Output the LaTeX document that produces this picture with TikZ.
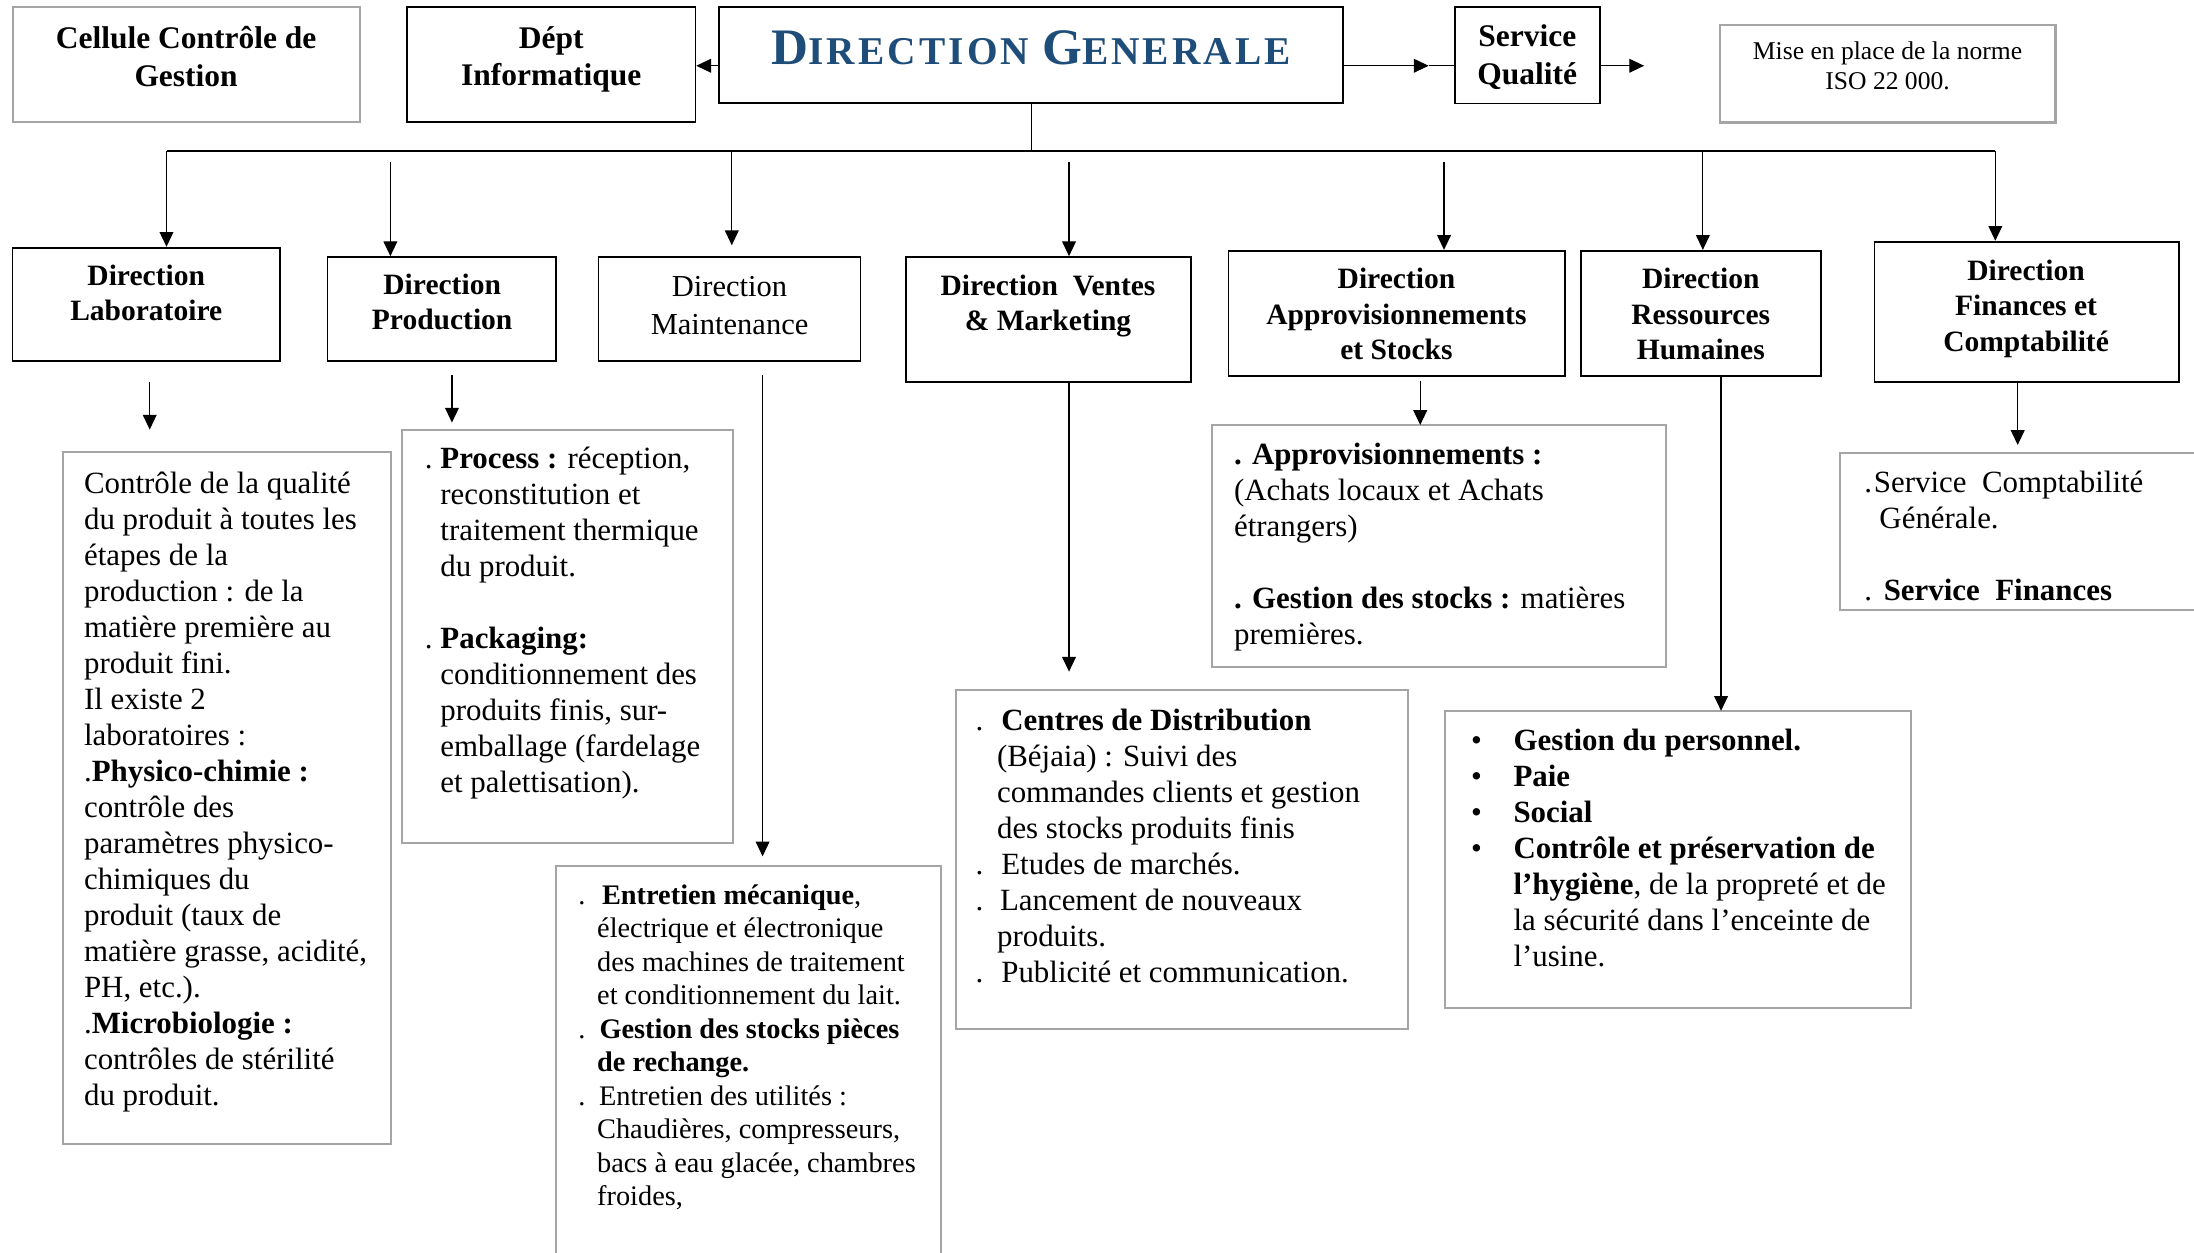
\documentclass[tikz,border=0pt]{standalone}
\usepackage{fontspec}
\setmainfont{Liberation Serif}
\newfontfamily\dgfont[LetterSpace=8]{Liberation Serif}
\usetikzlibrary{arrows.meta,fit}
\definecolor{dgblue}{RGB}{31,77,122}
\definecolor{boxgray}{RGB}{165,165,165}
\tikzset{
	bbox/.style={draw=black, line width=0.9pt, inner sep=0pt},
	gbox/.style={draw=boxgray, line width=1.1pt, inner sep=0pt},
	link/.style={line width=0.6pt},
	busline/.style={line width=1pt},
	txt/.style={inner sep=0pt, execute at begin node=\strut},
	toptitle/.style={txt, anchor=north, align=center, font=\fontsize{16}{19}\selectfont\bfseries},
	dirtitle/.style={txt, anchor=north, align=center, font=\fontsize{15}{18}\selectfont\bfseries},
	body/.style={txt, anchor=north west, align=left, font=\fontsize{15.7}{18.3}\selectfont},
	>={Triangle[length=7.5pt,width=7pt]}
}

\begin{document}
\begin{tikzpicture}[x=0.025cm, y=-0.025cm]
	\path[use as bounding box, clip] (0,0) rectangle (1568,895);

	% draws the top row
	\node[gbox, fit={(9,5) (257,87)}] (cel) {};
	\node[bbox, fit={(291,5) (497,87)}] (dept) {};
	\node[bbox, fit={(514,5) (960,73.5)}] (dg) {};
	\node[bbox, fit={(1040,5) (1143.5,74)}] (sq) {};
	\node[gbox, fit={(1229,18) (1469,87.5)}] (iso) {};

	\node[toptitle] (celT) at (133,18.6) {Cellule Contrôle de\\Gestion};
	\node[toptitle] (deptT) at (394,18.6) {Dépt\\Informatique};
	\node[anchor=base, inner sep=0pt, text=dgblue, font=\dgfont\bfseries] (dgT) at (737,46)
		{{\fontsize{26}{28}\selectfont D}{\fontsize{20}{24}\selectfont IRECTION }{\fontsize{26}{28}\selectfont G}{\fontsize{20}{24}\selectfont ENERALE}};
	\node[toptitle] (sqT) at (1091.5,17.5) {Service\\Qualité};
	\node[txt, anchor=north, align=center, font=\fontsize{13}{15.2}\selectfont] (isoT) at (1349,29.9)
		{Mise en place de la norme\\ISO 22 000.};

	% draws the arrows beside the direction
	\coordinate (yq) at (0,47);
	\coordinate (sqIn) at (1021,47);
	\coordinate (sqOut) at (1175,47);
	\draw[link,->] (dg.west |- yq) -- (dept.east |- yq);
	\draw[link,->] (dg.east |- yq) -- (sqIn);
	\draw[link] (sqIn) -- (sq.west |- yq);
	\draw[link,->] (sq.east |- yq) -- (sqOut);

	% draws the second row
	\node[bbox, fit={(9,177) (200,258.2)}] (labo) {};
	\node[bbox, fit={(234,183.7) (397.6,258.2)}] (prod) {};
	\node[bbox, fit={(427.7,183.9) (615,258.2)}] (maint) {};
	\node[bbox, fit={(647.3,183.7) (851,273.2)}] (vent) {};
	\node[bbox, fit={(878,179.2) (1118.3,268.7)}] (appro) {};
	\node[bbox, fit={(1129.7,179.2) (1301.2,268.7)}] (rh) {};
	\node[bbox, fit={(1339.6,172.7) (1557,272.8)}] (fin) {};

	\node[dirtitle] (laboT) at (104.5,188.8) {Direction\\Laboratoire};
	\node[dirtitle] (prodT) at (316,195.5) {Direction\\Production};
	\node[dirtitle, font=\fontsize{15.5}{19}\selectfont] (maintT) at (521.4,197.3) {Direction\\Maintenance};
	\node[dirtitle] (ventT) at (749,196.1) {Direction~~Ventes\\\& Marketing};
	\node[dirtitle] (approT) at (998,191.4) {Direction\\Approvisionnements\\et Stocks};
	\node[dirtitle] (rhT) at (1215.5,191.4) {Direction\\Ressources\\Humaines};
	\node[dirtitle] (finT) at (1448,185.4) {Direction\\Finances et\\Comptabilité};

	% draws the tree under the direction
	\coordinate (bus) at (0,108);
	\coordinate (d1) at (119,108);
	\coordinate (d2) at (279,115.5);
	\coordinate (d3) at (523,108);
	\coordinate (d4) at (764,115.5);
	\coordinate (d5) at (1032,115.5);
	\coordinate (d6) at (1217,108);
	\coordinate (d7) at (1426,108);
	\draw[link] (dg.south) -- (dg.south |- bus);
	\draw[busline] (d1) -- (d7);
	\foreach \d/\b in {d1/labo, d2/prod, d4/vent, d5/appro, d6/rh, d7/fin}
		\draw[link,->] (\d) -- (\d |- \b.north);
	\draw[link,->, shorten >=0.2cm] (d3) -- (d3 |- maint.north);

	% draws the detail boxes
	\node[gbox, fit={(45.1,323.3) (279.6,817.6)}] (laboD) {};
	\node[gbox, fit={(287.2,307.3) (523.7,602.2)}] (prodD) {};
	\node[gbox, fit={(397.5,618.7) (672.5,905)}] (maintD) {};
	\node[gbox, fit={(683.3,493) (1006,735.2)}] (ventD) {};
	\node[gbox, fit={(866.4,303.7) (1190.9,476.6)}] (approD) {};
	\node[gbox, fit={(1032.8,508.3) (1365.6,720.5)}] (rhD) {};
	\node[gbox, fit={(1314.8,323.5) (1580,436)}] (finD) {};

	% draws the arrows down to the details
	\foreach \n/\x/\ya/\yb in {lab/107/273/307, pro/323/268/302, mai/545/268/612, ven/764/273.2/480,
			app/1015/272/303.7, res/1230/268.7/508, fin/1442/272.8/318} {
		\coordinate (\n A) at (\x,\ya);
		\coordinate (\n B) at (\x,\yb);
		\draw[link,->] (\n A) -- (\n B);
	}

	% writes the details
	\node[body] (laboDT) at (59.8,336.7) {Contrôle de la qualité\\du produit à toutes les\\étapes de la\\
		production : de la\\matière première au\\produit fini.\\Il existe 2\\laboratoires :\\
		.\textbf{Physico-chimie :}\\contrôle des\\paramètres physico-\\chimiques du\\produit (taux de\\
		matière grasse, acidité,\\PH, etc.).\\.\textbf{Microbiologie :}\\contrôles de stérilité\\du produit.};
	\node[body] (prodDT) at (314.5,319.4) {\llap{.\hspace{4pt}}\textbf{Process :} réception,\\reconstitution et\\
		traitement thermique\\du produit.\\[18.3pt]
		\llap{.\hspace{4pt}}\textbf{Packaging:}\\conditionnement des\\produits finis, sur-\\
		emballage (fardelage\\et palettisation).};
	\node[body, font=\fontsize{14.4}{17.04}\selectfont] (maintDT) at (426.5,631.8)
		{\llap{.\hspace{6pt}}\hspace{2.5pt}\textbf{Entretien mécanique},\\électrique et électronique\\
		des machines de traitement\\et conditionnement du lait.\\
		\llap{.\hspace{6pt}}\hspace{1.2pt}\textbf{Gestion des stocks pièces}\\\textbf{de rechange.}\\
		\llap{.\hspace{6pt}}\hspace{1pt}Entretien des utilités :\\Chaudières, compresseurs,\\
		bacs à eau glacée, chambres\\froides,};
	\node[body] (ventDT) at (712.3,506.5)
		{\llap{.\hspace{7pt}}\hspace{2.2pt}\textbf{Centres de Distribution}\\(Béjaia) : Suivi des\\
		commandes clients et gestion\\des stocks produits finis\\
		\llap{.\hspace{7pt}}\hspace{2.2pt}Etudes de marchés.\\
		\llap{.\hspace{7pt}}\hspace{1.5pt}Lancement de nouveaux\\produits.\\
		\llap{.\hspace{7pt}}\hspace{2.2pt}Publicité et communication.};
	\node[body] (approDT) at (881.7,316.1) {\textbf{. Approvisionnements :}\\(Achats locaux et Achats\\
		étrangers)\\[18.3pt]
		\textbf{. Gestion des stocks :} matières\\premières.};
	\node[body] (rhDT) at (1081.4,521) {\llap{•\hspace{16pt}}\textbf{Gestion du personnel.}\\
		\llap{•\hspace{16pt}}\textbf{Paie}\\\llap{•\hspace{16pt}}\textbf{Social}\\
		\llap{•\hspace{16pt}}\textbf{Contrôle et préservation de}\\
		\textbf{l’hygiène}, de la propreté et de\\la sécurité dans l’enceinte de\\l’usine.};
	\node[body] (finDT) at (1339,336) {\llap{.\hspace{1pt}}Service~~Comptabilité\\
		\hspace{2.8pt}Générale.\\[18.3pt]
		\llap{.\hspace{1pt}}\hspace{5pt}\textbf{Service~~Finances}};
\end{tikzpicture}
\end{document}
